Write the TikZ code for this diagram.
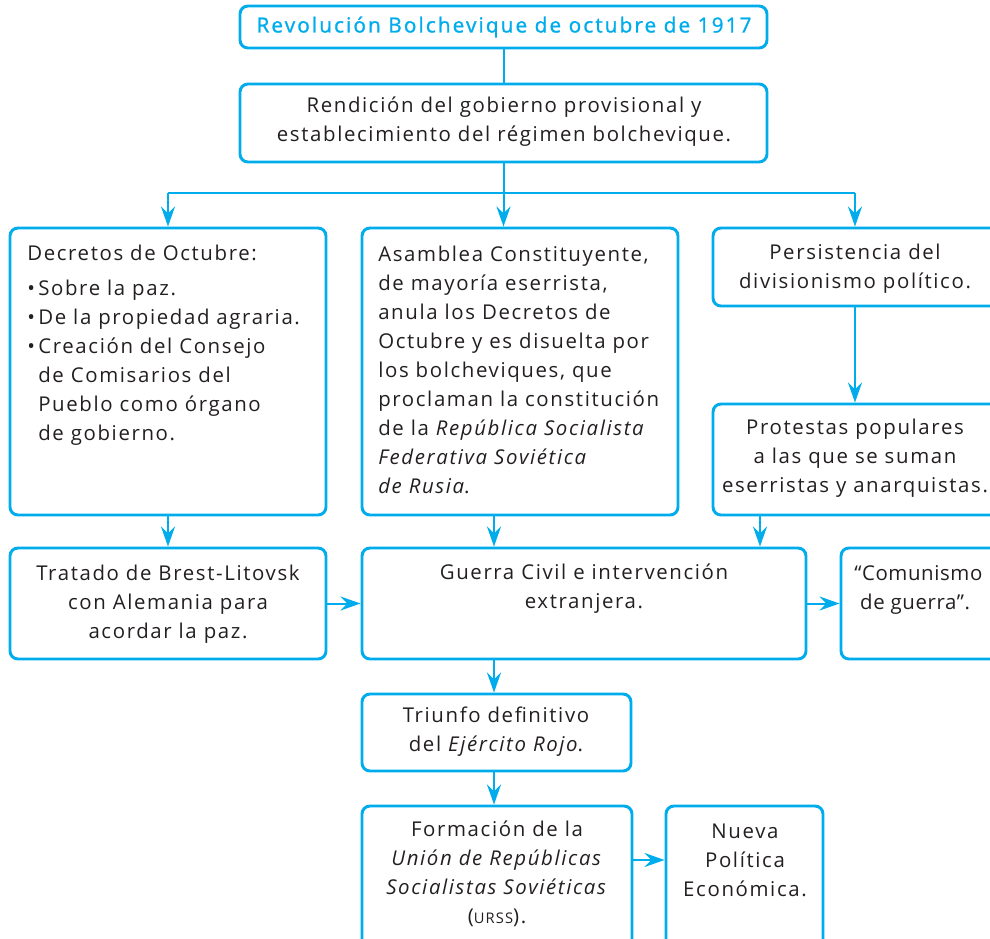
\documentclass[tikz,border=0pt]{standalone}
\usepackage{fontspec}
\setmainfont{Open Sans}[LetterSpace=8]
\newfontfamily\titlefont{Open Sans}[LetterSpace=10,FakeBold=1.2]
\newfontfamily\tightfont{Open Sans}[LetterSpace=3]
\usetikzlibrary{arrows.meta,fit}
\definecolor{cy}{RGB}{0,172,236}
\definecolor{tx}{RGB}{35,31,32}
\begin{document}
\begin{tikzpicture}[x=0.75pt,y=-0.75pt,
  box/.style={draw=cy,line width=2.2pt,rounded corners=6pt,inner sep=0pt},
  conn/.style={draw=cy,line width=1.5pt},
  arr/.style={conn,-{Stealth[length=15pt,width=10.5pt,inset=5pt]}},
  txt/.style={text=tx,font=\fontsize{15.3}{21.75}\selectfont,inner sep=0pt},
  ttl/.style={text=cy,font=\titlefont\fontsize{15.6}{21.75}\selectfont,inner sep=0pt}]
\useasboundingbox (0,0) rectangle (990,939);
% boxes
\node[box,fit={(240,6)(767,48)}] (title) {};
\node[box,fit={(240,84)(767,162)}] (rend) {};
\node[box,fit={(10,228)(326,515)}] (decr) {};
\node[box,fit={(362,228)(678,515)}] (asam) {};
\node[box,fit={(713,228)(1005,306)}] (pers) {};
\node[box,fit={(713,404)(1005,515)}] (prot) {};
\node[box,fit={(10,548)(326,659)}] (trat) {};
\node[box,fit={(362,548)(806,659)}] (guer) {};
\node[box,fit={(841,548)(1010,659)}] (comu) {};
\node[box,fit={(362,694)(631,771)}] (triu) {};
\node[box,fit={(362,806)(632,950)}] (form) {};
\node[box,fit={(666,806)(823,950)}] (nuev) {};
% texts
\node[ttl] (ttitle) at (504,27) {Revolución Bolchevique de octubre de 1917};
\node[txt,align=center] (trend) at (504,122) {Rendición del gobierno provisional y\\establecimiento del régimen bolchevique.};
\node[txt,align=left,anchor=north west] (tdecr) at (27,245) {Decretos de Octubre:\\[4pt]
\textbullet\,Sobre la paz.\\
\textbullet\,De la propiedad agraria.\\
\textbullet\,Creación del Consejo\\
\phantom{\textbullet\,}de Comisarios del\\
\phantom{\textbullet\,}Pueblo como órgano\\
\phantom{\textbullet\,}de gobierno.};
\node[txt,align=left,anchor=north west] (tasam) at (378,246) {Asamblea Constituyente,\\de mayoría eserrista,\\anula los Decretos de\\Octubre y es disuelta por\\los bolcheviques, que\\proclaman la constitución\\de la \textit{República Socialista}\\\textit{Federativa Soviética}\\\textit{de Rusia}.};
\node[txt,align=center] (tpers) at (855,269) {Persistencia del\\divisionismo político.};
\node[txt,align=center] (tprot) at (855,458) {Protestas populares\\a las que se suman\\eserristas y anarquistas.};
\node[txt,align=center] (ttrat) at (168,604) {Tratado de Brest-Litovsk\\con Alemania para\\acordar la paz.};
\node[txt,align=center] (tguer) at (584,589) {Guerra Civil e intervención\\extranjera.};
\node[txt,font=\tightfont\fontsize{15.3}{21.75}\selectfont,align=left,anchor=north west] (tcomu) at (854,565) {“Comunismo\\\ de guerra”.};
\node[txt,align=center] (ttriu) at (496,732) {Triunfo definitivo\\del \textit{Ejército Rojo}.};
\node[txt,align=center] (tform) at (497,874) {Formación de la\\\textit{Unión de Repúblicas}\\\textit{Socialistas Soviéticas}\\({\fontsize{11}{13}\selectfont URSS}).};
\node[txt,align=center] (tnuev) at (745,860) {Nueva\\Política\\Económica.};
% connectors
\coordinate (split) at (503.5,193);
\coordinate (xr) at (855,0);
\coordinate (xm) at (494,0);
\coordinate (xp) at (760,0);
\coordinate (ym) at (0,860);
\draw[conn] (title.south) -- (rend.north);
\draw[conn] (rend.south) -- (split);
\draw[conn] (decr.north |- split) -- (xr |- split);
\draw[arr] (decr.north |- split) -- (decr.north);
\draw[arr] (split) -- (split |- asam.north);
\draw[arr] (xr |- split) -- (xr |- pers.north);
\draw[arr] (xr |- pers.south) -- (xr |- prot.north);
\draw[arr] (decr.south) -- (trat.north);
\draw[arr] (xm |- asam.south) -- (xm |- guer.north);
\draw[arr] (xp |- prot.south) -- (xp |- guer.north);
\draw[arr] (trat.east) -- (trat.east -| guer.west);
\draw[arr] (guer.east) -- (guer.east -| comu.west);
\draw[arr] (xm |- guer.south) -- (xm |- triu.north);
\draw[arr] (xm |- triu.south) -- (xm |- form.north);
\draw[arr] (form.east |- ym) -- (nuev.west |- ym);
\end{tikzpicture}
\end{document}
